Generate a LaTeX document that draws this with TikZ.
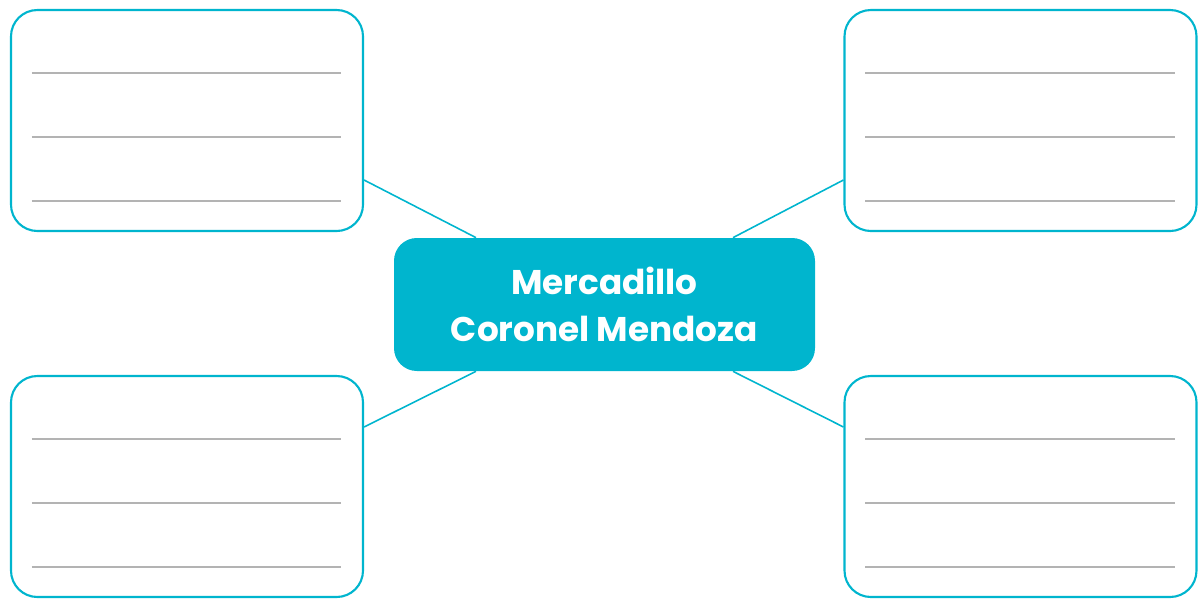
\documentclass[tikz,border=0pt]{standalone}
\usepackage{fontspec}
\setmainfont{Poppins}
\usetikzlibrary{positioning, calc}
\definecolor{mapcyan}{HTML}{00B5CE}
\definecolor{rulegray}{HTML}{B3B3B3}

\begin{document}
\begin{tikzpicture}[
  answer/.style={rectangle, rounded corners=15pt, draw=mapcyan, line width=1.2pt,
                 minimum width=7.04cm, minimum height=4.42cm, fill=white},
  topic/.style={rectangle, rounded corners=13pt, fill=mapcyan, minimum width=8.42cm,
                minimum height=2.66cm, align=center, text=white,
                font=\fontsize{19.5}{27}\selectfont\bfseries},
  link/.style={draw=mapcyan, line width=0.9pt},
  writeline/.style={draw=rulegray, line width=0.7pt},
]
  \useasboundingbox (0,0) rectangle (24.06,-12.06);

  \node[topic] (market) at (12.09,-6.09) {Mercadillo\\Coronel Mendoza};

  \node[answer] (tl) at (3.74,-2.41) {};
  \node[answer] (tr) at (20.41,-2.41) {};
  \node[answer] (bl) at (3.74,-9.73) {};
  \node[answer] (br) at (20.41,-9.73) {};

  % writing lines
  \foreach \b in {tl,tr,bl,br}{
    \foreach \y in {1.28,2.56,3.84}{
      \draw[writeline] ($(\b.north west)+(0.44,-\y)$) -- ($(\b.north east)+(-0.46,-\y)$);
    }
  }

  % connectors
  \coordinate (tlout) at ($(tl.east)+(0,-1.19)$);
  \coordinate (trout) at ($(tr.west)+(0,-1.19)$);
  \coordinate (blout) at ($(bl.east)+(0,1.19)$);
  \coordinate (brout) at ($(br.west)+(0,1.19)$);
  \coordinate (mtl) at ($(market.north)+(-2.57,0)$);
  \coordinate (mtr) at ($(market.north)+(2.57,0)$);
  \coordinate (mbl) at ($(market.south)+(-2.57,0)$);
  \coordinate (mbr) at ($(market.south)+(2.57,0)$);
  \draw[link] (tlout) -- (mtl);
  \draw[link] (trout) -- (mtr);
  \draw[link] (blout) -- (mbl);
  \draw[link] (brout) -- (mbr);

\end{tikzpicture}
\end{document}
